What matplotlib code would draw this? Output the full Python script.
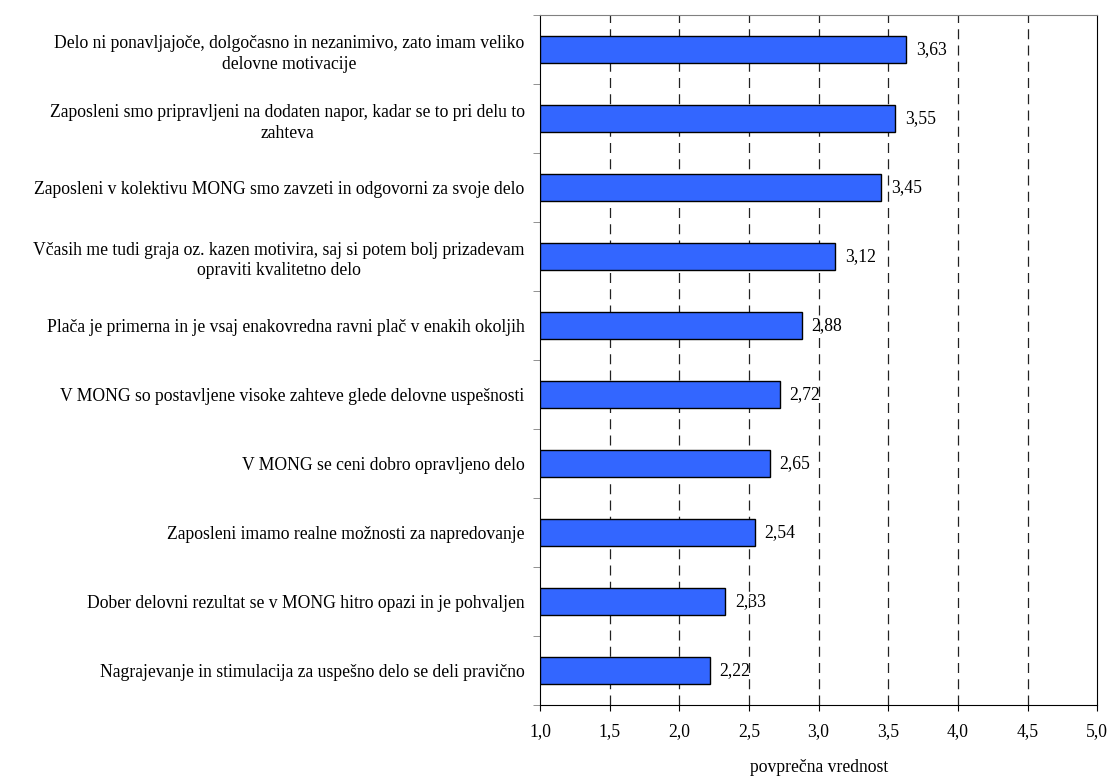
import matplotlib.pyplot as plt
import numpy as np

plt.rcParams['font.family'] = ['Liberation Serif', 'DejaVu Serif']

# statements, top to bottom, and their mean scores
statements = [
    "Delo ni ponavljajoče, dolgočasno in nezanimivo, zato imam veliko\ndelovne motivacije",
    "Zaposleni smo pripravljeni na dodaten napor, kadar se to pri delu to\nzahteva",
    "Zaposleni v kolektivu MONG smo zavzeti in odgovorni za svoje delo",
    "Včasih me tudi graja oz. kazen motivira, saj si potem bolj prizadevam\nopraviti kvalitetno delo",
    "Plača je primerna in je vsaj enakovredna ravni plač v enakih okoljih",
    "V MONG so postavljene visoke zahteve glede delovne uspešnosti",
    "V MONG se ceni dobro opravljeno delo",
    "Zaposleni imamo realne možnosti za napredovanje",
    "Dober delovni rezultat se v MONG hitro opazi in je pohvaljen",
    "Nagrajevanje in stimulacija za uspešno delo se deli pravično",
]
scores = [3.63, 3.55, 3.45, 3.12, 2.88, 2.72, 2.65, 2.54, 2.33, 2.22]

x_ticks = [1.0, 1.5, 2.0, 2.5, 3.0, 3.5, 4.0, 4.5, 5.0]

FS = 12.7


def fmt(v, nd):
    return f"{v:.{nd}f}".replace(".", ",")


fig = plt.figure(figsize=(11.1, 7.76), dpi=100)
ax = fig.add_axes([0.4865, 0.0915, 0.502, 0.889])

n = len(statements)
ypos = np.arange(n)[::-1]
widths = [s - 1.0 for s in scores]
ax.barh(ypos, widths, left=1.0, height=0.4, color="#3366FF",
        edgecolor="black", linewidth=1, zorder=3)

for y, s in zip(ypos, scores):
    ax.text(s + 0.07, y, fmt(s, 2), va="center", ha="left", fontsize=FS, zorder=4)

ax.set_xlim(1.0, 5.0)
ax.set_ylim(-0.5, n - 0.5)

ax.set_xticks(x_ticks)
ax.set_xticklabels([fmt(t, 1) for t in x_ticks], fontsize=FS)
for t in x_ticks[1:-1]:
    ax.axvline(t, color="#222222", linestyle=(0, (8, 5)), linewidth=0.9, zorder=1)

ax.set_yticks(ypos)
ax.set_yticklabels(statements, fontsize=FS, multialignment="center", linespacing=1.3)
ax.tick_params(axis="y", which="major", length=0, pad=11)
ax.set_yticks(np.arange(-0.5, n, 1.0), minor=True)
ax.tick_params(axis="y", which="minor", length=5, direction="out", color="gray")
ax.tick_params(axis="x", length=4, direction="out", pad=9)

ax.spines["top"].set_color("gray")
ax.spines["left"].set_color("black")

ax.set_xlabel("povprečna vrednost", fontsize=FS, labelpad=14)

fig.savefig("out.png", dpi=100)
